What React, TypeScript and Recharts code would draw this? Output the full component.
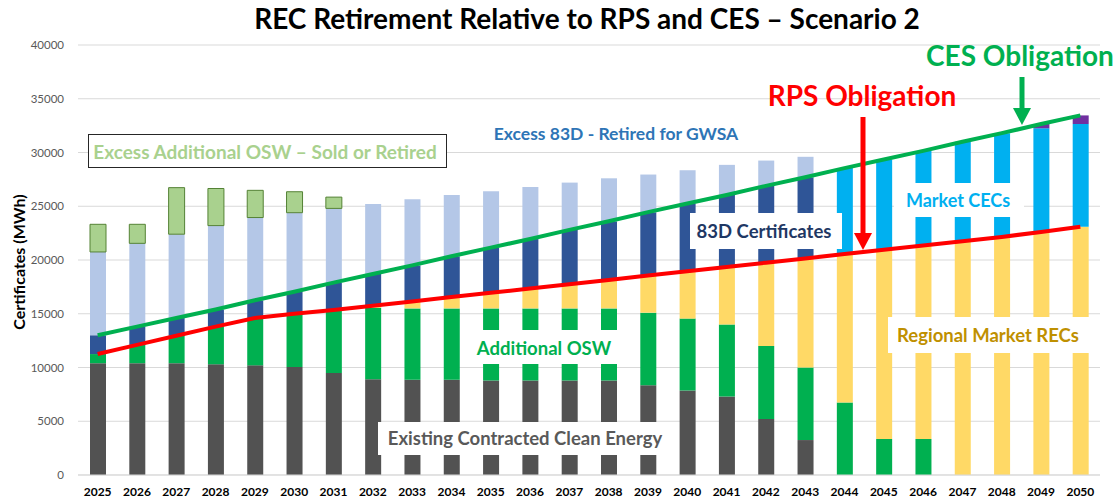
import { ComposedChart, Bar, Line, XAxis, YAxis, CartesianGrid } from 'recharts'

const YEARS = [
  '2025', '2026', '2027', '2028', '2029', '2030', '2031', '2032', '2033', '2034', '2035', '2036', '2037',
  '2038', '2039', '2040', '2041', '2042', '2043', '2044', '2045', '2046', '2047', '2048', '2049', '2050',
]

// stacked segments, MWh
const EXISTING = [10400, 10400, 10400, 10300, 10200, 10050, 9500, 8900, 8850, 8850, 8800, 8800, 8800, 8800, 8350, 7850, 7300, 5200, 3250, 0, 0, 0, 0, 0, 0, 0]
const ADDITIONAL_OSW = [850, 1700, 2550, 3500, 4400, 4950, 5850, 6650, 6650, 6650, 6700, 6700, 6700, 6700, 6750, 6700, 6700, 6800, 6750, 6750, 3350, 3350, 0, 0, 0, 0]
const REGIONAL_RECS = [0, 0, 0, 0, 0, 0, 0, 200, 650, 1050, 1450, 1850, 2250, 2650, 3450, 4400, 5350, 7750, 10150, 13800, 17600, 18000, 21750, 22150, 22600, 23100]
const CERTS_83D = [1750, 1700, 1650, 1600, 1650, 2050, 2550, 2950, 3350, 3800, 4200, 4600, 5050, 5450, 5900, 6300, 6700, 7150, 7550, 0, 0, 0, 0, 0, 0, 0]
const MARKET_CECS = [0, 0, 0, 0, 0, 0, 0, 0, 0, 0, 0, 0, 0, 0, 0, 0, 0, 0, 0, 8000, 8400, 8800, 9250, 9650, 9650, 9550]
const OTHER_CES = [0, 0, 0, 0, 0, 0, 0, 0, 0, 0, 0, 0, 0, 0, 0, 0, 0, 0, 0, 0, 0, 0, 0, 0, 400, 800]
const EXCESS_83D = [7750, 7750, 7800, 7800, 7700, 7350, 6900, 6500, 6150, 5700, 5250, 4850, 4400, 4000, 3500, 3100, 2800, 2350, 1900, 0, 0, 0, 0, 0, 0, 0]
const EXCESS_OSW = [2570, 1770, 4330, 3450, 2530, 1950, 1050, 0, 0, 0, 0, 0, 0, 0, 0, 0, 0, 0, 0, 0, 0, 0, 0, 0, 0, 0]

// obligation lines
const RPS = [11250, 12100, 12950, 13800, 14600, 15000, 15350, 15750, 16150, 16550, 16950, 17350, 17750, 18150, 18550, 18950, 19350, 19750, 20150, 20550, 20950, 21350, 21750, 22150, 22600, 23100]
const CES = [13000, 13800, 14600, 15400, 16250, 17050, 17900, 18700, 19500, 20350, 21150, 21950, 22800, 23600, 24450, 25250, 26050, 26900, 27700, 28550, 29350, 30150, 31000, 31800, 32650, 33450]

const Y_TICKS = [0, 5000, 10000, 15000, 20000, 25000, 30000, 35000, 40000]

const data = YEARS.map((year, i) => ({
  year,
  existing: EXISTING[i],
  osw: ADDITIONAL_OSW[i],
  regional: REGIONAL_RECS[i],
  d83: CERTS_83D[i],
  cec: MARKET_CECS[i],
  other: OTHER_CES[i],
  excess83d: EXCESS_83D[i],
  excessOsw: EXCESS_OSW[i],
  rps: RPS[i],
  ces: CES[i],
}))

const FONT = 'Lato, "Open Sans", sans-serif'

function Arrow({ x, y1, y2, color }: { x: number; y1: number; y2: number; color: string }) {
  return (
    <g>
      <rect x={x - 2.5} y={y1} width={5} height={y2 - y1 - 15} fill={color} />
      <polygon points={`${x - 9},${y2 - 17} ${x + 9},${y2 - 17} ${x},${y2}`} fill={color} />
    </g>
  )
}

export default function App() {
  return (
    <div style={{ position: 'absolute', left: 0, top: 0, width: 1115, height: 501, background: '#fff', fontFamily: FONT }}>
      <ComposedChart width={1115} height={501} data={data} margin={{ top: 45, right: 15, left: 0, bottom: 0 }}>
        <CartesianGrid vertical={false} stroke="#d9d9d9" />
        <XAxis
          dataKey="year"
          height={26}
          tickLine={false}
          tickMargin={6}
          axisLine={{ stroke: '#d9d9d9' }}
          tick={{ fill: '#000', fontSize: 12, fontWeight: 700 }}
          interval={0}
        />
        <YAxis
          width={78}
          domain={[0, 40000]}
          ticks={Y_TICKS}
          axisLine={false}
          tickLine={false}
          tickMargin={8}
          tick={{ fill: '#595959', fontSize: 11.5 }}
        />
        <Bar dataKey="existing" stackId="a" fill="#525252" barSize={16} isAnimationActive={false} />
        <Bar dataKey="osw" stackId="a" fill="#00b050" barSize={16} isAnimationActive={false} />
        <Bar dataKey="regional" stackId="a" fill="#ffd966" barSize={16} isAnimationActive={false} />
        <Bar dataKey="d83" stackId="a" fill="#2f5597" barSize={16} isAnimationActive={false} />
        <Bar dataKey="cec" stackId="a" fill="#00b0f0" barSize={16} isAnimationActive={false} />
        <Bar dataKey="other" stackId="a" fill="#7030a0" barSize={16} isAnimationActive={false} />
        <Bar dataKey="excess83d" stackId="a" fill="#b4c7e7" barSize={16} isAnimationActive={false} />
        <Bar dataKey="excessOsw" stackId="a" fill="#a9d18e" stroke="#548235" strokeWidth={1} barSize={16} isAnimationActive={false} />
        <Line dataKey="rps" type="linear" stroke="#ff0000" strokeWidth={4} dot={false} isAnimationActive={false} />
        <Line dataKey="ces" type="linear" stroke="#00b050" strokeWidth={4} dot={false} isAnimationActive={false} />
      </ComposedChart>

      <svg width={1115} height={501} style={{ position: 'absolute', left: 0, top: 0, pointerEvents: 'none' }} fontFamily={FONT}>
        <text x={587} y={18} textAnchor="middle" dominantBaseline="central" fontSize={28} fontWeight={700} fill="#000">
          REC Retirement Relative to RPS and CES – Scenario 2
        </text>
        <text x={18} y={262} textAnchor="middle" dominantBaseline="central" fontSize={16} fontWeight={700} fill="#000" transform="rotate(-90 18 262)">
          Certificates (MWh)
        </text>

        <rect x={88.5} y={134.5} width={358} height={33} fill="#fff" stroke="#262626" strokeWidth={1} />
        <text x={265} y={151} textAnchor="middle" dominantBaseline="central" fontSize={19} fontWeight={700} fill="#a9d18e">
          Excess Additional OSW – Sold or Retired
        </text>

        <text x={616} y={133} textAnchor="middle" dominantBaseline="central" fontSize={17.5} fontWeight={700} fill="#2e75b6">
          Excess 83D - Retired for GWSA
        </text>

        <rect x={690} y={213} width={152} height={36} fill="#fff" />
        <text x={764} y={231} textAnchor="middle" dominantBaseline="central" fontSize={18.5} fontWeight={700} fill="#1f3864">
          83D Certificates
        </text>

        <rect x={894} y={183} width={130} height={34} fill="#fff" />
        <text x={958} y={200} textAnchor="middle" dominantBaseline="central" fontSize={18} fontWeight={700} fill="#00b0f0">
          Market CECs
        </text>

        <rect x={888} y={317} width={206} height={36} fill="#fff" />
        <text x={988} y={335} textAnchor="middle" dominantBaseline="central" fontSize={18.5} fontWeight={700} fill="#bf9000">
          Regional Market RECs
        </text>

        <rect x={462} y={330} width={173} height={34} fill="#fff" />
        <text x={544} y={348} textAnchor="middle" dominantBaseline="central" fontSize={18.5} fontWeight={700} fill="#00b050">
          Additional OSW
        </text>

        <rect x={378} y={422} width={290} height={33} fill="#fff" />
        <text x={525} y={438} textAnchor="middle" dominantBaseline="central" fontSize={18.5} fontWeight={700} fill="#595959">
          Existing Contracted Clean Energy
        </text>

        <text x={862} y={95} textAnchor="middle" dominantBaseline="central" fontSize={28} fontWeight={700} fill="#ff0000">
          RPS Obligation
        </text>
        <Arrow x={863} y1={117} y2={250} color="#ff0000" />

        <text x={1020} y={55} textAnchor="middle" dominantBaseline="central" fontSize={28} fontWeight={700} fill="#00b050">
          CES Obligation
        </text>
        <Arrow x={1022} y1={77} y2={125} color="#00b050" />
      </svg>
    </div>
  )
}
